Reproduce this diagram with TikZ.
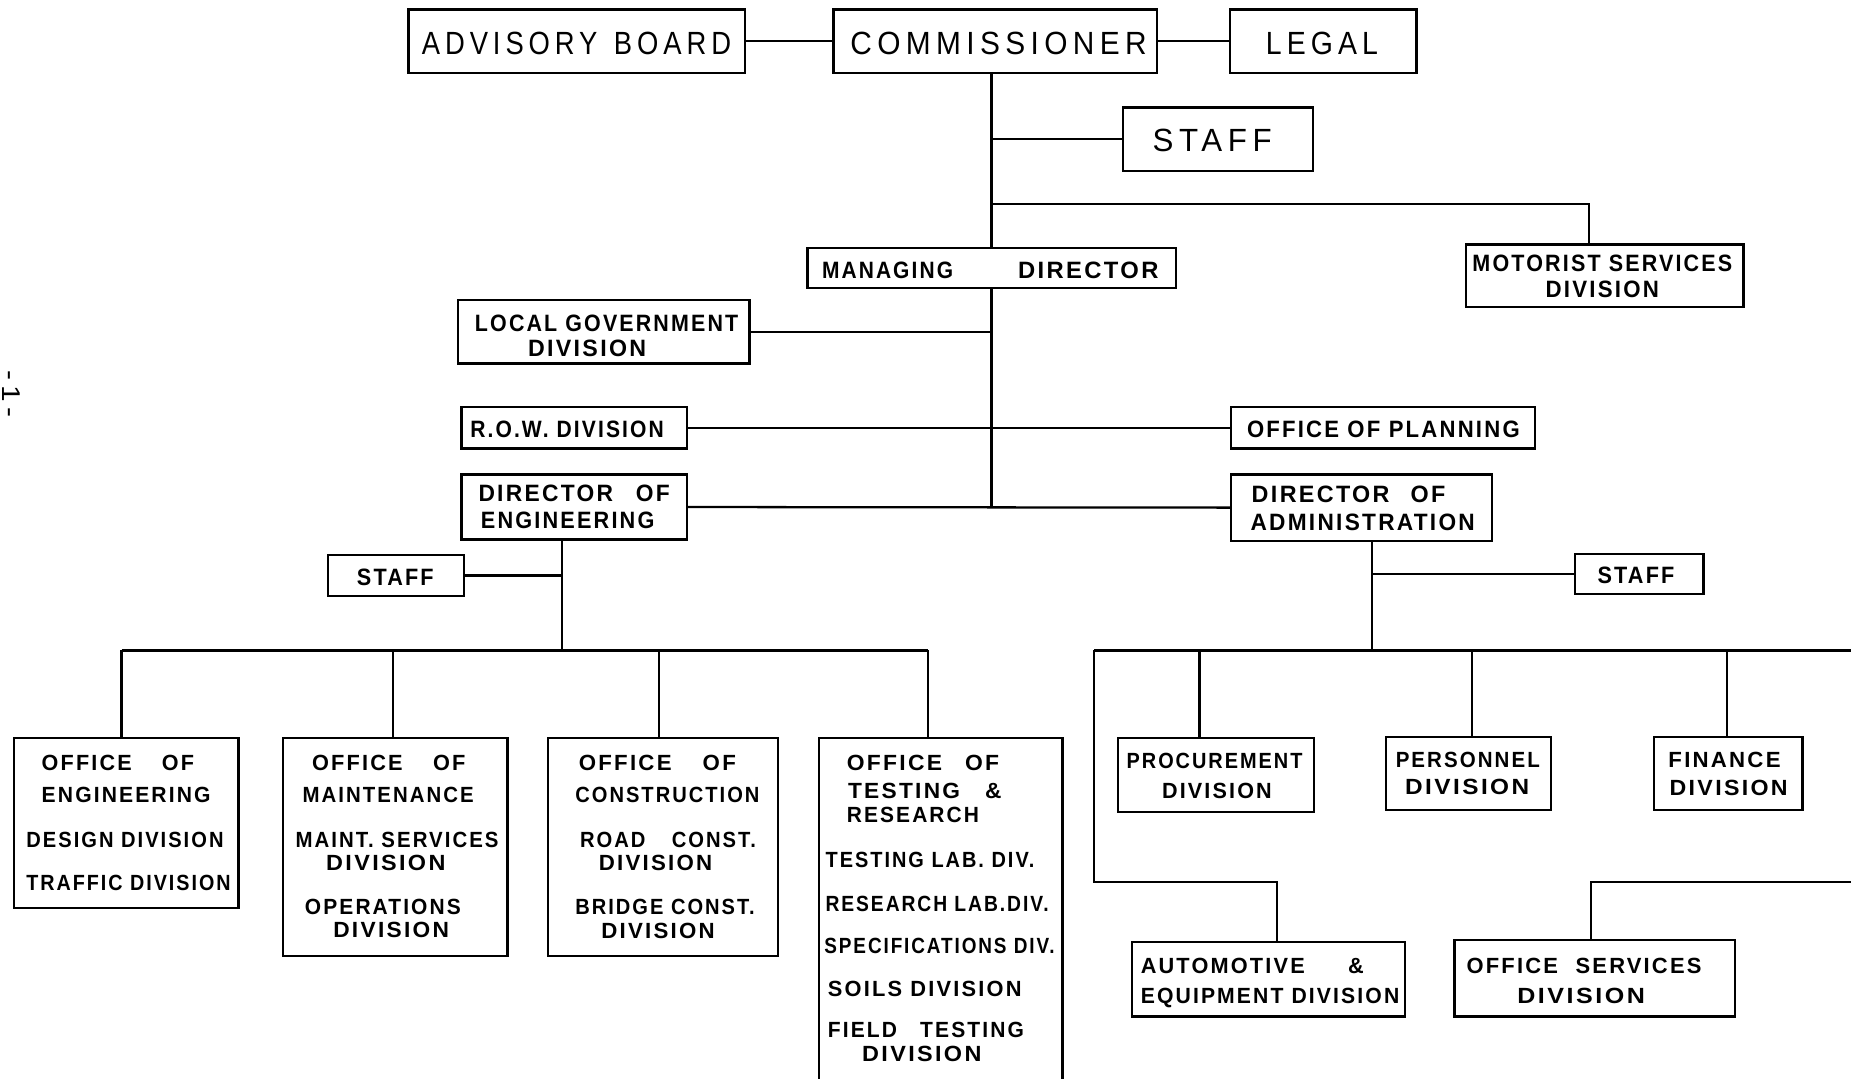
\documentclass[tikz,border=0pt]{standalone}
\usepackage{fontspec}
\usetikzlibrary{fit}
\setmainfont{Liberation Sans}
\newfontfamily\bigfont[LetterSpace=18]{Liberation Sans}
\newfontfamily\smfont[LetterSpace=10]{Liberation Sans}
\newlength\pxu \setlength\pxu{0.02cm}
\newcommand\tbig[6]{\node[txt] (#1) at (#2,#3) {\resizebox{#4\pxu}{#5\pxu}{\bigfont #6}};}
\newcommand\tsm[6]{\node[txt] (#1) at (#2,#3) {\resizebox{#4\pxu}{#5\pxu}{\smfont\bfseries #6}};}
\newcommand\bx[5]{\node[box, fit={(#2,#3) (#4,#5)}] (#1) {};}
\begin{document}
\begin{tikzpicture}[x=0.02cm, y=-0.02cm,
  box/.style={draw, line width=1.1pt, inner sep=0pt},
  txt/.style={anchor=base west, inner sep=0pt},
  wire/.style={line width=1.1pt}]
\useasboundingbox (0,0) rectangle (1568,914);
\clip (0,0) rectangle (1568,914);
\fill[white] (0,0) rectangle (1568,914);

% boxes
\bx{adv}{346}{8}{631}{62}
\bx{comm}{706}{8}{980}{62}
\bx{legal}{1042}{8}{1200}{62}
\bx{staff0}{951}{91}{1112}{145}
\bx{md}{684}{210}{996}{244}
\bx{motor}{1242}{207}{1477}{260}
\bx{localgov}{388}{254}{635}{308}
\bx{row}{391}{345}{582}{380}
\bx{plan}{1043}{345}{1300}{380}
\bx{doe}{391}{402}{582}{457}
\bx{doa}{1043}{402}{1264}{458}
\bx{staffE}{278}{470}{393}{505}
\bx{staffA}{1334}{469}{1443}{503}
\bx{oe}{12}{625}{202}{769}
\bx{om}{240}{625}{430}{810}
\bx{oc}{464}{625}{659}{810}
\bx{ot}{694}{625}{900}{940}
\bx{proc}{947}{625}{1113}{688}
\bx{pers}{1174}{624}{1314}{686}
\bx{fin}{1401}{624}{1527}{686}
\bx{auto}{959}{798}{1190}{861}
\bx{osd}{1232}{796}{1470}{861}

% texts
\tbig{tadv}{357}{46}{262}{19}{ADVISORY\hspace{0.6em}BOARD}
\tbig{tcomm}{720}{46}{251}{19}{COMMISSIONER}
\tbig{tlegal}{1072}{46}{95}{19}{LEGAL}
\tbig{tstaff0}{976}{128}{101}{19}{STAFF}
\tsm{tmd1}{696}{236}{111}{14}{MANAGING}
\tsm{tmd2}{862}{236}{119}{14}{DIRECTOR}
\tsm{tlg1}{402}{281}{223}{14}{LOCAL GOVERNMENT}
\tsm{tlg2}{447}{302}{100}{14}{DIVISION}
\tsm{trow}{398}{371}{164}{14}{R.O.W. DIVISION}
\tsm{tplan}{1056}{371}{231}{14}{OFFICE OF PLANNING}
\tsm{tdoe1}{405}{425}{162}{14}{DIRECTOR\hspace{1em}OF}
\tsm{tdoe2}{407}{448}{147}{14}{ENGINEERING}
\tsm{tdoa1}{1060}{426}{164}{14}{DIRECTOR\hspace{0.9em}OF}
\tsm{tdoa2}{1059}{449}{190}{14}{ADMINISTRATION}
\tsm{tmot1}{1247}{230}{220}{14}{MOTORIST SERVICES}
\tsm{tmot2}{1309}{252}{96}{14}{DIVISION}
\tsm{tstE}{302}{496}{65}{14}{STAFF}
\tsm{tstA}{1353}{494}{65}{14}{STAFF}

\tsm{toe1}{35}{653}{129}{13}{OFFICE\hspace{1.4em}OF}
\tsm{toe2}{35}{680}{143}{13}{ENGINEERING}
\tsm{toe3}{22}{718}{167}{13}{DESIGN DIVISION}
\tsm{toe4}{22}{754}{173}{13}{TRAFFIC DIVISION}

\tsm{tom1}{264}{653}{130}{13}{OFFICE\hspace{1.4em}OF}
\tsm{tom2}{256}{680}{145}{13}{MAINTENANCE}
\tsm{tom3}{250}{718}{172}{13}{MAINT. SERVICES}
\tsm{tom4}{276}{737}{101}{13}{DIVISION}
\tsm{tom5}{258}{775}{132}{13}{OPERATIONS}
\tsm{tom6}{282}{794}{98}{13}{DIVISION}

\tsm{toc1}{490}{653}{133}{13}{OFFICE\hspace{1.4em}OF}
\tsm{toc2}{487}{680}{156}{13}{CONSTRUCTION}
\tsm{toc3}{491}{718}{149}{13}{ROAD\hspace{1.3em}CONST.}
\tsm{toc4}{507}{737}{96}{13}{DIVISION}
\tsm{toc5}{487}{775}{152}{13}{BRIDGE CONST.}
\tsm{toc6}{509}{795}{96}{13}{DIVISION}

\tsm{tot1}{717}{653}{129}{13}{OFFICE\hspace{1em}OF}
\tsm{tot2}{718}{676}{130}{13}{TESTING\hspace{1.1em}\&}
\tsm{tot3}{717}{697}{112}{13}{RESEARCH}
\tsm{tot4}{699}{735}{177}{13}{TESTING LAB. DIV.}
\tsm{tot5}{699}{772}{189}{13}{RESEARCH LAB.DIV.}
\tsm{tot6}{698}{808}{195}{13}{SPECIFICATIONS DIV.}
\tsm{tot7}{701}{844}{164}{13}{SOILS DIVISION}
\tsm{tot8}{701}{879}{166}{13}{FIELD\hspace{1.1em}TESTING}
\tsm{tot9}{730}{899}{101}{13}{DIVISION}

\tsm{tpr1}{954}{651}{149}{13}{PROCUREMENT}
\tsm{tpr2}{984}{676}{93}{13}{DIVISION}
\tsm{tpe1}{1182}{650}{122}{13}{PERSONNEL}
\tsm{tpe2}{1190}{673}{105}{13}{DIVISION}
\tsm{tfi1}{1413}{650}{95}{13}{FINANCE}
\tsm{tfi2}{1414}{674}{100}{13}{DIVISION}
\tsm{tau1}{966}{825}{189}{13}{AUTOMOTIVE\hspace{2em}\&}
\tsm{tau2}{966}{850}{219}{13}{EQUIPMENT DIVISION}
\tsm{tos1}{1242}{825}{199}{13}{OFFICE\hspace{0.8em}SERVICES}
\tsm{tos2}{1285}{850}{108}{13}{DIVISION}

\node[rotate=-90, inner sep=0pt] (pg) at (10,334) {\resizebox{40\pxu}{15\pxu}{\bigfont -1-}};

% connectors
\draw[wire] (adv.east) -- (comm.west);
\draw[wire] (comm.east) -- (legal.west);
\draw[wire] (md.north |- comm.south) -- (md.north);
\draw[wire] (staff0.west) -- (staff0.west -| md.north);
\coordinate (jm) at (840,173);
\coordinate (jm2) at (1346,173);
\draw[wire] (jm) -- (jm2) -- (jm2 |- motor.north);
\draw[wire] (md.south) -- (md.south |- doe.east);
\draw[wire] (localgov.east) -- (localgov.east -| md.south);
\draw[wire] (row.east) -- (plan.west);
\draw[wire] (doe.east) -- (doa.west);

\coordinate (be) at (476,551);
\draw[wire] (be |- doe.south) -- (be);
\draw[wire] (staffE.east) -- (staffE.east -| be);
\coordinate (d1) at (103,551);
\coordinate (d2) at (333,551);
\coordinate (d3) at (558,551);
\coordinate (d4) at (786,551);
\draw[wire] (d1) -- (d4);
\draw[wire] (d1) -- (d1 |- oe.north);
\draw[wire] (d2) -- (d2 |- om.north);
\draw[wire] (d3) -- (d3 |- oc.north);
\draw[wire] (d4) -- (d4 |- ot.north);

\coordinate (ba) at (1162,551);
\draw[wire] (ba |- doa.south) -- (ba);
\draw[wire] (staffA.west) -- (staffA.west -| ba);
\coordinate (ba2) at (927,551);
\coordinate (bend) at (1580,551);
\draw[wire] (ba2) -- (bend);
\coordinate (dp) at (1016,551);
\coordinate (dq) at (1247,551);
\coordinate (dr) at (1463,551);
\draw[wire] (dp) -- (dp |- proc.north);
\draw[wire] (dq) -- (dq |- pers.north);
\draw[wire] (dr) -- (dr |- fin.north);
\coordinate (aj1) at (927,747);
\coordinate (aj2) at (1082,747);
\draw[wire] (ba2) -- (aj1) -- (aj2) -- (aj2 |- auto.north);
\coordinate (oj1) at (1580,747);
\coordinate (oj2) at (1348,747);
\draw[wire] (oj1) -- (oj2) -- (oj2 |- osd.north);
\end{tikzpicture}
\end{document}
